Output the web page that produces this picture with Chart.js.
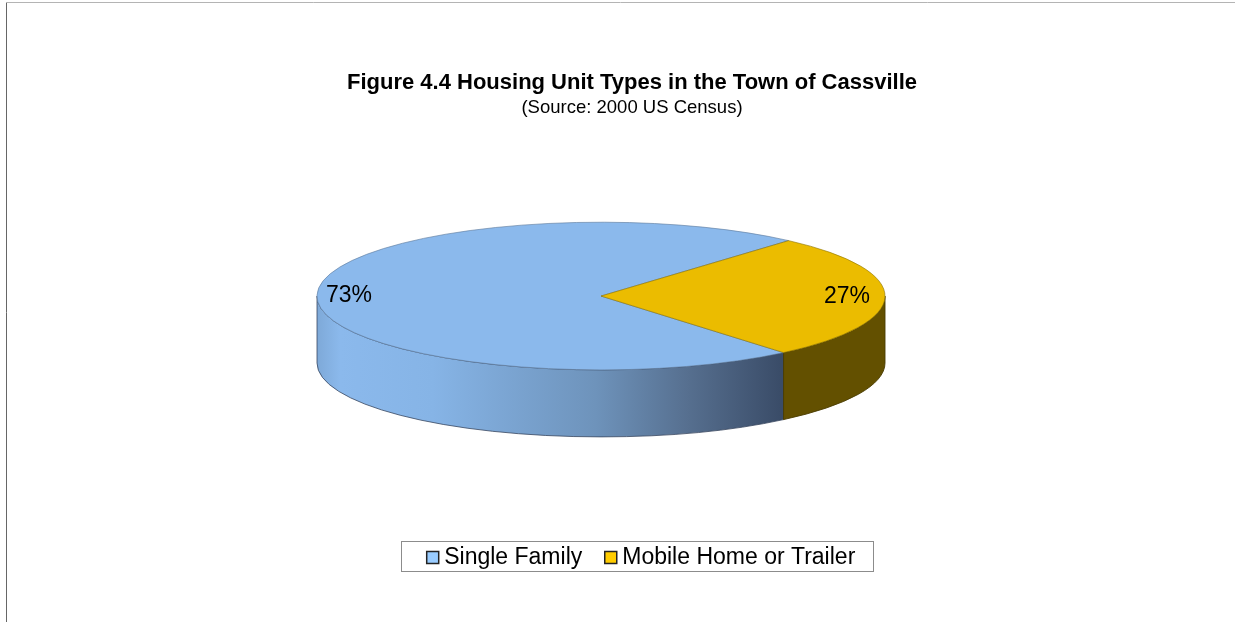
<!DOCTYPE html>
<html>
<head>
<meta charset="utf-8">
<title>Housing Unit Types</title>
<script src="https://cdn.jsdelivr.net/npm/chart.js@4"></script>
<style>
  html, body { margin: 0; padding: 0; background: #fff; overflow: hidden; }
  canvas { display: block; }
</style>
</head>
<body>
<canvas id="chart" width="1235" height="622"></canvas>
<script>
const categories = ["Single Family", "Mobile Home or Trailer"];
const values = [72.6, 27.4];
const valueLabels = ["73%", "27%"];
const sliceColors = ["#8bb9ec", "#ebbc00"];
const edgeColors = ["#5f7c9e", "#8f7600"];
const legendColors = ["#99ccff", "#ffcc00"];

const FONT = "'Liberation Sans', Arial, sans-serif";
const SQUASH = 0.26;
const DEPTH = 67;
const LEGEND_SIZE = 23;
const LEGEND_PADDING = 28.5;
const LEGEND_DX = 43;
const LEGEND_DY = 44;

// gradient of the blue side wall, dark towards the right
function wallFill(ctx, i, arc) {
  if (i !== 0) return "#635000";
  const g = ctx.createLinearGradient(arc.x - arc.outerRadius, 0, arc.x + 180, 0);
  g.addColorStop(0, "#7ea9d8");
  g.addColorStop(0.05, "#8bb9ec");
  g.addColorStop(0.25, "#86b4e6");
  g.addColorStop(0.6, "#6e93bb");
  g.addColorStop(0.8, "#566f8f");
  g.addColorStop(1, "#3a4c68");
  return g;
}

const flatPie = {
  id: "flatPie",
  afterLayout(chart) {
    // title and legend do not sit on the pie's centre line
    chart.boxes.forEach((box) => {
      if (box.position === "top") {
        box.left += 31;
        box.right += 31;
      }
    });
    const legend = chart.legend;
    legend.left += LEGEND_DX;
    legend.right += LEGEND_DX;
    legend.top += LEGEND_DY;
    legend.bottom += LEGEND_DY;
  },
  beforeDraw(chart) {
    const ctx = chart.ctx;
    ctx.save();
    ctx.strokeStyle = "#b4b4b4";
    ctx.lineWidth = 1;
    ctx.beginPath();
    ctx.moveTo(6, 2.5);
    ctx.lineTo(1235, 2.5);
    ctx.stroke();
    ctx.strokeStyle = "#666";
    ctx.beginPath();
    ctx.moveTo(6.5, 3);
    ctx.lineTo(6.5, 622);
    ctx.stroke();
    ctx.restore();
  },
  beforeDatasetsDraw(chart) {
    const ctx = chart.ctx;
    const arcs = chart.getDatasetMeta(0).data;
    const { x, y } = arcs[0];

    arcs.forEach((arc, i) => {
      const r = arc.outerRadius;
      let a0 = arc.startAngle;
      let a1 = arc.endAngle;
      if (a0 > Math.PI) {
        a0 -= 2 * Math.PI;
        a1 -= 2 * Math.PI;
      }
      a0 = Math.max(a0, 0);
      a1 = Math.min(a1, Math.PI);
      ctx.save();
      ctx.beginPath();
      ctx.ellipse(x, y, r, r * SQUASH, 0, a0, a1);
      ctx.ellipse(x, y + DEPTH, r, r * SQUASH, 0, a1, a0, true);
      ctx.closePath();
      ctx.fillStyle = wallFill(ctx, i, arc);
      ctx.fill();
      ctx.strokeStyle = i === 0 ? "rgba(50,65,90,0.85)" : "#4a3c00";
      ctx.lineWidth = 0.9;
      ctx.stroke();
      ctx.restore();
    });

    ctx.save();
    ctx.translate(x, y);
    ctx.scale(1, SQUASH);
    ctx.translate(-x, -y);
  },
  afterDatasetsDraw(chart) {
    const ctx = chart.ctx;
    ctx.restore();

    const arcs = chart.getDatasetMeta(0).data;
    ctx.save();
    ctx.font = "23px " + FONT;
    ctx.fillStyle = "#000";
    ctx.textAlign = "center";
    ctx.textBaseline = "middle";
    arcs.forEach((arc, i) => {
      const mid = (arc.startAngle + arc.endAngle) / 2;
      const r = arc.outerRadius * 0.877;
      ctx.fillText(valueLabels[i], arc.x - 3 + r * Math.cos(mid), arc.y + r * Math.sin(mid) * SQUASH);
    });
    ctx.restore();
  },
  afterDraw(chart) {
    // legend frame and swatches sit closer to the text than Chart.js puts them
    const ctx = chart.ctx;
    const legend = chart.legend;
    ctx.save();
    ctx.strokeStyle = "#8c8c8c";
    ctx.lineWidth = 1;
    ctx.strokeRect(401.5, 541.5, 472, 30);
    legend.legendHitBoxes.forEach((hit, i) => {
      const top = legend.top + LEGEND_PADDING + LEGEND_SIZE / 2 - 6;
      const left = hit.left - 6;
      ctx.fillStyle = legendColors[i];
      ctx.fillRect(left, top, 12, 12);
      ctx.strokeStyle = "#222";
      ctx.lineWidth = 1.5;
      ctx.strokeRect(left, top, 12, 12);
    });
    ctx.restore();
  },
};

new Chart(document.getElementById("chart"), {
  type: "pie",
  data: {
    labels: categories,
    datasets: [
      {
        data: values,
        backgroundColor: sliceColors,
        borderColor: edgeColors,
        borderWidth: 1,
        radius: 284,
      },
    ],
  },
  options: {
    responsive: false,
    animation: false,
    events: [],
    rotation: 140,
    layout: { padding: { right: 33, bottom: 87 } },
    plugins: {
      title: {
        display: true,
        text: "Figure 4.4 Housing Unit Types in the Town of Cassville",
        color: "#000",
        font: { family: FONT, size: 22, weight: "bold" },
        padding: { top: 70, bottom: 0 },
      },
      subtitle: {
        display: true,
        text: "(Source: 2000 US Census)",
        color: "#000",
        font: { family: FONT, size: 18.5, weight: "normal" },
        padding: { top: 0, bottom: 0 },
      },
      legend: {
        position: "bottom",
        labels: {
          boxWidth: 0,
          padding: LEGEND_PADDING,
          color: "#000",
          font: { family: FONT, size: LEGEND_SIZE },
        },
      },
      tooltip: { enabled: false },
    },
  },
  plugins: [flatPie],
});
</script>
</body>
</html>
